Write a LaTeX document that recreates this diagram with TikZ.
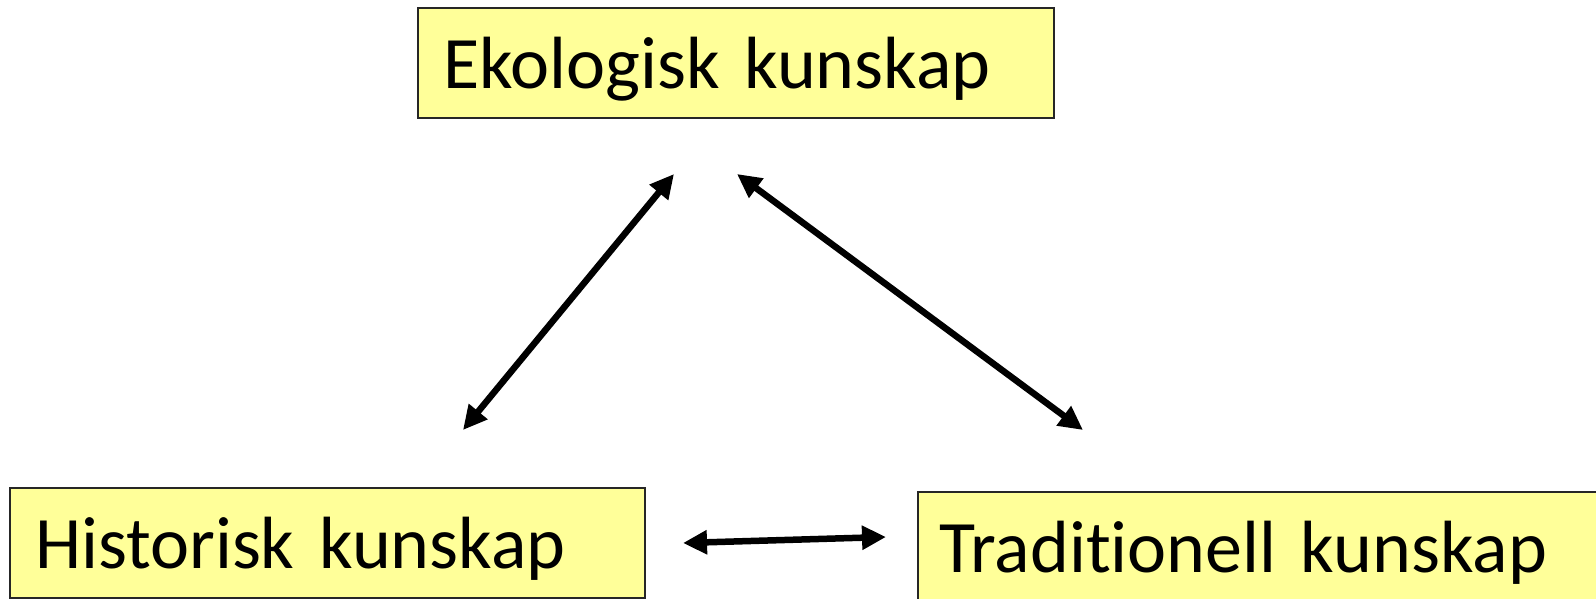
\documentclass[tikz,border=0pt]{standalone}
\usepackage{fontspec}
\setmainfont{Carlito}[Ligatures=CommonOff]
\usetikzlibrary{arrows.meta}
\definecolor{boxyellow}{HTML}{FFFF99}
\definecolor{boxedge}{HTML}{262626}
\tikzset{
  kbox/.style={draw=boxedge, line width=2pt, fill=boxyellow, anchor=north west,
    inner xsep=25pt, inner ysep=0pt, align=left,
    text height=80.5pt, text depth=29.5pt,
    font=\fontsize{74}{88}\selectfont},
  dblarrow/.style={line width=6.5pt,
    {Triangle[length=24pt,width=23pt]}-{Triangle[length=24pt,width=23pt]}}
}
\begin{document}
\begin{tikzpicture}[x=1pt,y=-1pt]
\useasboundingbox (0,0) rectangle (1596,599);
\clip (0,0) rectangle (1596,599);
\node[kbox, text width=586pt] (eko) at (417,7) {Ekologisk kunskap};
\node[kbox, text width=585pt] (his) at (9,487) {Historisk kunskap};
\node[kbox, text width=650pt, inner xsep=21pt] (tra) at (917,491) {Traditionell kunskap};
\coordinate (e1) at (674,174);
\coordinate (h1) at (463,430);
\coordinate (e2) at (737,174);
\coordinate (t1) at (1083,430);
\coordinate (h2) at (683,543);
\coordinate (t2) at (886,537);
\draw[dblarrow] (h1) -- (e1);
\draw[dblarrow] (e2) -- (t1);
\draw[dblarrow] (h2) -- (t2);
\end{tikzpicture}
\end{document}
